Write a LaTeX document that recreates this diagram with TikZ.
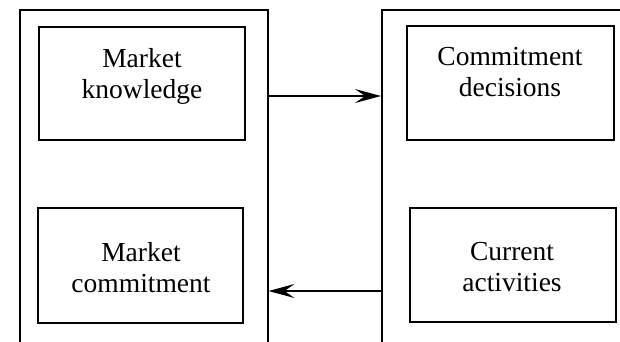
\documentclass[tikz,border=0pt]{standalone}
\usepackage{fontspec}
\setmainfont{Liberation Serif}
\usetikzlibrary{arrows.meta}
\begin{document}
\begin{tikzpicture}[x=1pt,y=-1pt,
        frame/.style={draw, line width=1.5pt, rectangle},
        box/.style={draw, line width=1.4pt, rectangle},
        lbl/.style={align=center, font=\fontsize{27.5}{31}\selectfont, inner sep=0pt},
        flow/.style={line width=1.4pt, -{Stealth[length=26pt,width=14pt,inset=10pt]}}]
    \useasboundingbox (0,0) rectangle (620,341);
    \clip (0,0) rectangle (620,341);
    % outer frames (cut by the page edge)
    \node[frame, minimum width=248pt, minimum height=380pt, anchor=north west] (state) at (19,9) {};
    \node[frame, minimum width=300pt, minimum height=380pt, anchor=north west] (change) at (381,9) {};
    % state aspects
    \node[box, minimum width=206pt, minimum height=113pt] (knowledge) at (142,83.5) {};
    \node[lbl] (knowledgetxt) at (142,76) {Market\\knowledge};
    \node[box, minimum width=205pt, minimum height=115pt] (commitment) at (140.5,265.5) {};
    \node[lbl] (commitmenttxt) at (141,268) {Market\\commitment};
    % change aspects
    \node[box, minimum width=207pt, minimum height=114pt] (decisions) at (510.5,83) {};
    \node[lbl] (decisionstxt) at (510,72) {Commitment\\decisions};
    \node[box, minimum width=206pt, minimum height=114pt] (activities) at (513,265) {};
    \node[lbl] (activitiestxt) at (512,267) {Current\\activities};
    % connectors between the frames
    \coordinate (top) at (0,96);
    \coordinate (bottom) at (0,291);
    \draw[flow] (state.east |- top) -- (change.west |- top);
    \draw[flow] (change.west |- bottom) -- (state.east |- bottom);
\end{tikzpicture}
\end{document}
